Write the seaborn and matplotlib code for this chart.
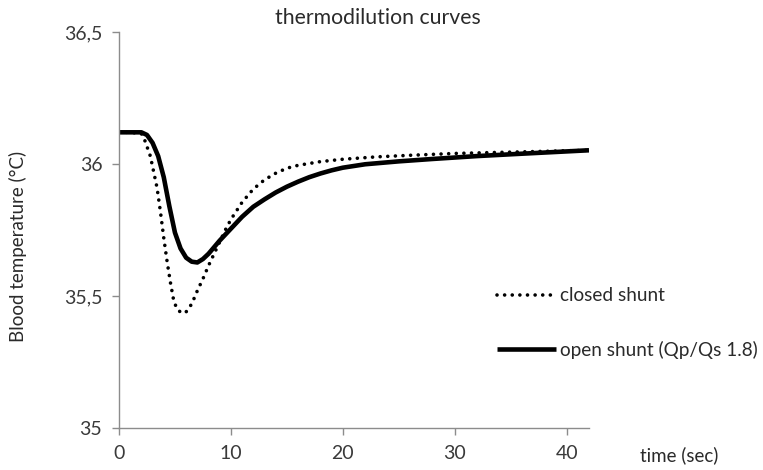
import numpy as np
import pandas as pd
import matplotlib
matplotlib.use("Agg")
import matplotlib.pyplot as plt
from matplotlib.ticker import FuncFormatter
import seaborn as sns

# ---- data ----
closed_t = [0, 1, 2, 2.3, 2.8, 3.1, 3.4, 3.7, 4.0, 4.3, 4.6, 4.9, 5.2, 5.6, 6.0,
            6.5, 7.0, 7.5, 8.0, 8.5, 9.0, 9.5, 10, 11, 12, 13, 14, 15, 16, 18,
            20, 23, 26, 30, 35, 42]
closed_temp = [36.12, 36.12, 36.115, 36.09, 36.03, 35.97, 35.91, 35.82, 35.72,
               35.63, 35.55, 35.48, 35.45, 35.435, 35.44, 35.47, 35.52, 35.565,
               35.615, 35.66, 35.705, 35.75, 35.79, 35.855, 35.905, 35.94, 35.965,
               35.984, 35.995, 36.009, 36.018, 36.027, 36.033, 36.04, 36.045,
               36.052]

open_t = [0, 1, 2, 2.5, 3, 3.5, 4, 4.5, 5, 5.5, 6, 6.5, 7, 7.5, 8, 8.5, 9, 10,
          11, 12, 13, 14, 15, 16, 17, 18, 19, 20, 22, 25, 28, 32, 36, 42]
open_temp = [36.12, 36.12, 36.12, 36.11, 36.08, 36.03, 35.95, 35.84, 35.74, 35.68,
             35.645, 35.63, 35.627, 35.64, 35.66, 35.685, 35.71, 35.755, 35.80,
             35.838, 35.866, 35.892, 35.914, 35.933, 35.95, 35.964, 35.976,
             35.986, 35.999, 36.01, 36.019, 36.03, 36.039, 36.052]

series_labels = ["closed shunt", "open shunt (Qp/Qs 1.8)"]
x_ticks = [0, 10, 20, 30, 40]
y_ticks = [35, 35.5, 36, 36.5]
title = "thermodilution curves"
x_label = "time (sec)"
y_label = "Blood temperature (°C)"

sns.set_style("white")
plt.rcParams['font.family'] = ['Lato', 'DejaVu Sans']

fig = plt.figure(figsize=(7.63, 4.70), dpi=100)
ax = fig.add_axes([119/763, 1-428/470, (589-119)/763, (428-32)/470])

df_closed = pd.DataFrame({"t": closed_t, "temp": closed_temp})
df_open = pd.DataFrame({"t": open_t, "temp": open_temp})

sns.lineplot(data=df_closed, x="t", y="temp", ax=ax, color="black",
             linewidth=2.6, label=series_labels[0], sort=True)
sns.lineplot(data=df_open, x="t", y="temp", ax=ax, color="black",
             linewidth=3.3, label=series_labels[1], sort=True)

dot_line = ax.lines[0]
dot_line.set_linestyle((0, (0.01, 2.1)))
dot_line.set_dash_capstyle('round')
ax.lines[1].set_solid_capstyle('butt')
ax.lines[1].set_solid_joinstyle('round')

ax.set_xlim(0, 42)
ax.set_ylim(35, 36.5)
ax.set_xticks(x_ticks)
ax.set_yticks(y_ticks)
ax.yaxis.set_major_formatter(FuncFormatter(lambda v, p: f"{v:g}".replace('.', ',')))

for s in ['top', 'right']:
    ax.spines[s].set_visible(False)
for s in ['left', 'bottom']:
    ax.spines[s].set_color('#8c8c8c')
    ax.spines[s].set_linewidth(1.0)
ax.tick_params(axis='both', direction='out', length=5, width=1, color='#8c8c8c',
               labelcolor='#3a3a3a', labelsize=14, pad=7, left=True, bottom=True)

ax.set_xlabel("")
ax.set_ylabel(y_label, fontsize=13.5, color='#2a2a2a')
ax.yaxis.set_label_coords(27/763, 1-246/470, transform=fig.transFigure)
ax.set_title(title, fontsize=15.3, color='#2a2a2a', x=(378-119)/470, pad=6)
fig.text(640/763, 1-455/470, x_label, fontsize=13.5, color='#2a2a2a',
         ha='left', va='center')

leg = ax.legend(loc='center left', bbox_to_anchor=(497/763, 1-323/470),
                bbox_transform=fig.transFigure, frameon=False, fontsize=13.7,
                handlelength=3.1, handletextpad=0.2, labelspacing=1.9,
                borderpad=0, borderaxespad=0)
for t in leg.get_texts():
    t.set_color('#2a2a2a')

fig.savefig("out.png", dpi=100)
